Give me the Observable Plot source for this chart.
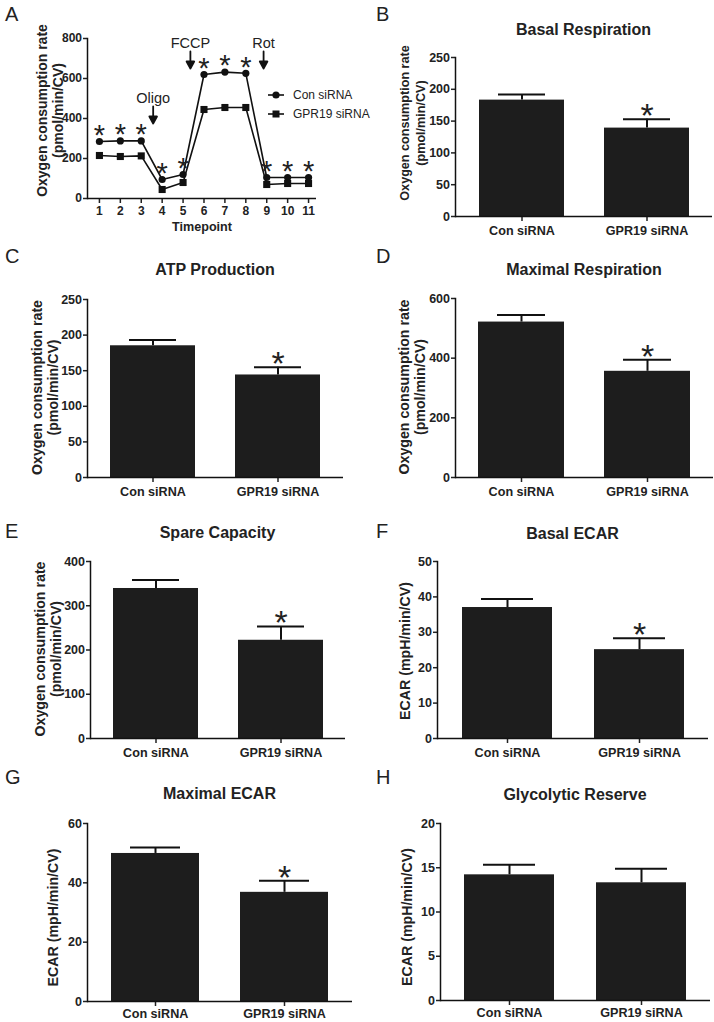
<!DOCTYPE html>
<html><head><meta charset="utf-8">
<script src="https://cdn.jsdelivr.net/npm/d3@7"></script>
<script src="https://cdn.jsdelivr.net/npm/@observablehq/plot@0.6"></script>
<style>
body{margin:0;background:#fff;}
#root{position:relative;width:714px;height:1022px;overflow:hidden;font-family:"Liberation Sans",Arial,sans-serif;color:#222;}
.abs{position:absolute;white-space:nowrap;}
#root svg{position:absolute;overflow:visible;}
</style></head><body><div id="root"></div>
<script>
// ---------- data ----------
const timepoints = [1, 2, 3, 4, 5, 6, 7, 8, 9, 10, 11];
const conOCR = [285, 288, 288, 95, 120, 620, 632, 626, 105, 105, 105];
const gprOCR = [215, 210, 213, 45, 80, 445, 455, 455, 70, 75, 75];
const conSig = [true, true, true, true, true, true, true, true, true, true, true];
const seriesNames = ["Con siRNA", "GPR19 siRNA"];
const injections = ["Oligo", "FCCP", "Rot"];
const injectionAt = [3.57, 5.35, 8.85];
const injectionTip = [375, 650, 650];
const timeTicks = [1, 2, 3, 4, 5, 6, 7, 8, 9, 10, 11];
const ocrTicksA = [0, 200, 400, 600, 800];

const groups = ["Con siRNA", "GPR19 siRNA"];
const basalResp = [183, 139], basalRespErr = [9, 14], basalRespSig = [false, true];
const atpProd = [185, 144], atpProdErr = [8, 11], atpProdSig = [false, true];
const maxResp = [521, 356], maxRespErr = [24, 39], maxRespSig = [false, true];
const spareCap = [339, 222], spareCapErr = [19, 31], spareCapSig = [false, true];
const basalECAR = [37.0, 25.1], basalECARErr = [2.4, 3.2], basalECARSig = [false, true];
const maxECAR = [49.9, 36.8], maxECARErr = [2.0, 3.9], maxECARSig = [false, true];
const glycRes = [14.2, 13.3], glycResErr = [1.15, 1.6], glycResSig = [false, false];

const ticksBasal = [0, 50, 100, 150, 200, 250];
const ticksMax = [0, 200, 400, 600];
const ticksSpare = [0, 100, 200, 300, 400];
const ticksBECAR = [0, 10, 20, 30, 40, 50];
const ticksMECAR = [0, 20, 40, 60];
const ticksGly = [0, 5, 10, 15, 20];

// ---------- helpers ----------
const root = document.getElementById("root");
const FONT = "Liberation Sans, Arial, sans-serif";
const INK = "#111";
function label(text, x, y, size, weight = "normal", anchor = "start") {
  const d = document.createElement("div");
  d.className = "abs";
  d.textContent = text;
  d.style.fontSize = size + "px";
  d.style.lineHeight = size + "px";
  d.style.fontWeight = weight;
  d.style.top = (y - 0.4885 * size) + "px";
  d.style.left = x + "px";
  if (anchor === "middle") d.style.transform = "translateX(-50%)";
  root.appendChild(d);
}
function place(svg, left, top) {
  svg.style.left = left + "px";
  svg.style.top = top + "px";
  root.appendChild(svg);
}
const baseStyle = {fontFamily: FONT, fontSize: "12px", color: "#222", background: "transparent", overflow: "visible"};

// ---------- panel A ----------
(function () {
  const fx0 = 87, fx1 = 316, fyT = 38, fyB = 198;
  const left = 0, top = 13, W = 357, H = 225;
  const con = timepoints.map((t, i) => ({t, v: conOCR[i], sig: conSig[i]}));
  const gpr = timepoints.map((t, i) => ({t, v: gprOCR[i]}));
  const inj = injections.map((name, i) => ({name, t: injectionAt[i], tip: injectionTip[i]}));
  const arrowShape = {
    draw(ctx, l) {
      const hl = 7, hw = 3.8;
      ctx.moveTo(0, 0);
      ctx.lineTo(0, -l + hl);
      ctx.moveTo(-hw, -l + hl);
      ctx.lineTo(hw, -l + hl);
      ctx.lineTo(0, -l);
      ctx.closePath();
    }
  };
  const svg = Plot.plot({
    width: W, height: H,
    marginLeft: fx0 - left, marginRight: left + W - fx1, marginTop: fyT - top, marginBottom: top + H - fyB,
    style: baseStyle,
    x: {domain: [0.43, 11.38], label: null},
    y: {domain: [0, 800], label: null},
    marks: [
      Plot.line(con, {x: "t", y: "v", stroke: INK, strokeWidth: 1.6}),
      Plot.line(gpr, {x: "t", y: "v", stroke: INK, strokeWidth: 1.6}),
      Plot.dot(con, {x: "t", y: "v", symbol: "circle", r: 3.6, fill: INK, stroke: "none"}),
      Plot.dot(gpr, {x: "t", y: "v", symbol: "square", r: 4, fill: INK, stroke: "none"}),
      Plot.text(con.filter(d => d.sig), {x: "t", y: "v", text: () => "*", fontSize: 29, lineAnchor: "middle", dy: -6, fill: "#222"}),
      Plot.vector(inj, {x: "t", y: "tip", length: 17, rotate: 180, anchor: "end", shape: arrowShape, stroke: INK, fill: INK, strokeWidth: 1.8}),
      Plot.text(inj, {x: "t", y: "tip", text: "name", fontSize: 14.5, lineAnchor: "bottom", dy: -21, fill: "#222"}),
      Plot.axisY({ticks: ocrTicksA, tickSize: 4, tickPadding: 1.5, strokeWidth: 1.5, fontSize: 12, fontWeight: "bold", label: null}),
      Plot.axisX({ticks: timeTicks, tickSize: 5, tickPadding: 3, strokeWidth: 1.5, fontSize: 12, fontWeight: "bold", label: null}),
      Plot.ruleY([0], {stroke: INK, strokeWidth: 1.5}),
      Plot.frame({anchor: "left", stroke: INK, strokeWidth: 1.5}),
      Plot.text(["Oxygen consumption rate"], {text: d => d, frameAnchor: "left", textAnchor: "middle", rotate: -90, dx: -45, dy: -8, fontSize: 14, fontWeight: "bold", fill: "#222"}),
      Plot.text(["(pmol/min/CV)"], {text: d => d, frameAnchor: "left", textAnchor: "middle", rotate: -90, dx: -29, dy: -8, fontSize: 14, fontWeight: "bold", fill: "#222"}),
      Plot.text(["Timepoint"], {text: d => d, frameAnchor: "bottom", dy: 28, lineAnchor: "middle", fontSize: 12.6, fontWeight: "bold", fill: "#222"})
    ]
  });
  place(svg, left, top);
  // legend
  const leg = document.createElement("div");
  leg.className = "abs";
  leg.style.left = "266px"; leg.style.top = "86px";
  seriesNames.forEach((name, i) => {
    const row = document.createElement("div");
    row.style.display = "flex"; row.style.alignItems = "center"; row.style.height = "18.5px";
    const ns = "http://www.w3.org/2000/svg";
    const s = document.createElementNS(ns, "svg");
    s.setAttribute("width", "22"); s.setAttribute("height", "12");
    s.style.position = "static";
    const ln = document.createElementNS(ns, "line");
    ln.setAttribute("x1", "2"); ln.setAttribute("x2", "18"); ln.setAttribute("y1", "6"); ln.setAttribute("y2", "6");
    ln.setAttribute("stroke", INK); ln.setAttribute("stroke-width", "1.6");
    s.appendChild(ln);
    if (i === 0) {
      const c = document.createElementNS(ns, "circle");
      c.setAttribute("cx", "10"); c.setAttribute("cy", "6"); c.setAttribute("r", "3.6"); c.setAttribute("fill", INK);
      s.appendChild(c);
    } else {
      const r = document.createElementNS(ns, "rect");
      r.setAttribute("x", "6.5"); r.setAttribute("y", "2.5"); r.setAttribute("width", "7"); r.setAttribute("height", "7"); r.setAttribute("fill", INK);
      s.appendChild(r);
    }
    row.appendChild(s);
    const t = document.createElement("span");
    t.textContent = name; t.style.fontSize = "12px"; t.style.marginLeft = "5px";
    row.appendChild(t);
    leg.appendChild(row);
  });
  root.appendChild(leg);
  label("A", 5, 13.8, 20);
})();

// ---------- bar panels ----------
function barPanel(p) {
  const left = p.col * 357, W = 357;
  const top = p.fyT - 28, bottom = Math.min(p.fyB + 34, 1022), H = bottom - top;
  const data = groups.map((g, i) => ({g, v: p.values[i], e: p.values[i] + p.errs[i], sig: p.sig[i]}));
  const yLabel = p.ylab.map((txt, i) => Plot.text([txt], {text: d => d, frameAnchor: "left", textAnchor: "middle", rotate: -90, dx: p.ydx[i], dy: p.ydy, fontSize: p.yfs, fontWeight: "bold", fill: "#222"}));
  const svg = Plot.plot({
    width: W, height: H,
    marginLeft: p.fx0 - left, marginRight: left + W - p.fx1, marginTop: p.fyT - top, marginBottom: bottom - p.fyB,
    style: baseStyle,
    x: {domain: groups, paddingInner: 0.32, paddingOuter: 0.18, label: null},
    y: {domain: [0, p.ticks[p.ticks.length - 1]], label: null},
    marks: [
      Plot.barY(data, {x: "g", y: "v", fill: "#1d1d1d"}),
      Plot.ruleX(data, {x: "g", y1: "v", y2: "e", stroke: INK, strokeWidth: 2}),
      Plot.tickY(data, {x: "g", y: "e", stroke: INK, strokeWidth: 2, insetLeft: 19, insetRight: 19}),
      Plot.text(data.filter(d => d.sig), {x: "g", y: "e", text: () => "*", fontSize: 34, lineAnchor: "middle", dy: -3, fill: "#222"}),
      Plot.axisY({ticks: p.ticks, tickSize: 4, tickPadding: 1.5, strokeWidth: 1.5, fontSize: 12.5, fontWeight: "bold", label: null}),
      Plot.axisX({tickSize: 5, tickPadding: p.xpad ?? 5, strokeWidth: 1.5, fontSize: 12.6, fontWeight: "bold", label: null}),
      Plot.ruleY([0], {stroke: INK, strokeWidth: 1.5}),
      Plot.frame({anchor: "left", stroke: INK, strokeWidth: 1.5}),
      ...yLabel
    ]
  });
  place(svg, left, top);
  label(p.letter, p.col ? 376 : 5, p.letterY, 20);
  label(p.title, (p.fx0 + p.fx1) / 2, p.titleY, 16, "bold", "middle");
}
const OCRlab = ["Oxygen consumption rate", "(pmol/min/CV)"];
const ECARlab = ["ECAR (mpH/min/CV)"];
barPanel({letter: "B", title: "Basal Respiration", col: 1, fx0: 455, fx1: 712, fyT: 57, fyB: 216, values: basalResp, errs: basalRespErr, sig: basalRespSig, ticks: ticksBasal, ylab: OCRlab, ydx: [-51, -35], ydy: -14, yfs: 12.6, letterY: 13.8, titleY: 30});
barPanel({letter: "C", title: "ATP Production", col: 0, fx0: 87, fx1: 343, fyT: 299, fyB: 477, values: atpProd, errs: atpProdErr, sig: atpProdSig, ticks: ticksBasal, ylab: OCRlab, ydx: [-50, -34], ydy: -1, yfs: 14.2, letterY: 255.5, titleY: 269.5});
barPanel({letter: "D", title: "Maximal Respiration", col: 1, fx0: 455, fx1: 713, fyT: 298, fyB: 477, values: maxResp, errs: maxRespErr, sig: maxRespSig, ticks: ticksMax, ylab: OCRlab, ydx: [-51, -35], ydy: -1, yfs: 14.2, letterY: 255.5, titleY: 269.5});
barPanel({letter: "E", title: "Spare Capacity", col: 0, fx0: 90, fx1: 345, fyT: 561, fyB: 738, values: spareCap, errs: spareCapErr, sig: spareCapSig, ticks: ticksSpare, ylab: OCRlab, ydx: [-50, -34], ydy: -1, yfs: 14.2, letterY: 531, titleY: 533.3});
barPanel({letter: "F", title: "Basal ECAR", col: 1, fx0: 437, fx1: 708, fyT: 561, fyB: 738, values: basalECAR, errs: basalECARErr, sig: basalECARSig, ticks: ticksBECAR, ylab: ECARlab, ydx: [-32], ydy: 1, yfs: 14.2, letterY: 531, titleY: 534});
barPanel({letter: "G", title: "Maximal ECAR", col: 0, fx0: 87, fx1: 352, fyT: 823, fyB: 1001, values: maxECAR, errs: maxECARErr, sig: maxECARSig, ticks: ticksMECAR, ylab: ECARlab, ydx: [-34], ydy: 5, yfs: 14.2, xpad: 2.5, letterY: 777, titleY: 794});
barPanel({letter: "H", title: "Glycolytic Reserve", col: 1, fx0: 440, fx1: 710, fyT: 823, fyB: 1000, values: glycRes, errs: glycResErr, sig: glycResSig, ticks: ticksGly, ylab: ECARlab, ydx: [-33], ydy: 5, yfs: 14.2, xpad: 2.5, letterY: 777, titleY: 795});
</script>
</body></html>
